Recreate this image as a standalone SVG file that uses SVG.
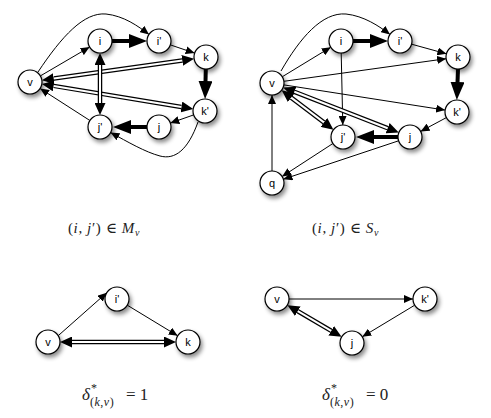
<svg xmlns="http://www.w3.org/2000/svg" width="491" height="418" viewBox="0 0 491 418">
<style>
.e{fill:none;stroke:#000;stroke-width:1}
.t{fill:none;stroke:#000;stroke-width:4}
.db{fill:none;stroke:#000;stroke-width:4.5}
.dw{fill:none;stroke:#fff;stroke-width:2}
.n circle{fill:#fff;stroke:#000;stroke-width:1.2}
.n text{font-family:"Liberation Sans",Arial,sans-serif;font-size:11px;text-anchor:middle;dominant-baseline:central;fill:#000}
.m{font-family:"Liberation Serif","DejaVu Serif",serif;font-size:15px;fill:#222}
.i{font-style:italic}
.s{font-size:10px}
.ss{font-size:12px}
.big{font-size:17px}
</style>
<defs>
<filter id="sh" x="-60%" y="-60%" width="220%" height="220%"><feDropShadow dx="2" dy="3" stdDeviation="2" flood-color="#000" flood-opacity="0.45"/></filter>
<marker id="a" markerUnits="userSpaceOnUse" viewBox="0 0 9 8" refX="9" refY="4" markerWidth="9" markerHeight="8" orient="auto"><path d="M0,0 L9,4 L0,8 z"/></marker>
<marker id="t" markerUnits="userSpaceOnUse" viewBox="0 0 18 14" refX="0.5" refY="7" markerWidth="18" markerHeight="14" orient="auto"><path d="M0,0 L18,7 L0,14 z"/></marker>
<marker id="d" markerUnits="userSpaceOnUse" viewBox="0 0 12 11" refX="0" refY="5.5" markerWidth="12" markerHeight="11" orient="auto-start-reverse"><path d="M0,0 L12,5.5 L0,11 z"/></marker>
</defs>
<g id="connectors">
<!-- left graph -->
<path class="e" marker-end="url(#a)" d="M40.4,75.9 L89.6,47.1"/>
<path class="e" marker-end="url(#a)" d="M38,72 C62,36 84,12 106,14 C124,16 138,26 149,34.5"/>
<path class="t" marker-end="url(#t)" d="M112,41 L129.5,41"/>
<path class="e" marker-end="url(#a)" d="M170.4,44.9 L194.6,53.1"/>
<path class="t" marker-end="url(#t)" d="M205.8,69 L205.5,81.5"/>
<path class="db" marker-start="url(#d)" marker-end="url(#d)" d="M53.8,78.6 L182.2,60.4"/>
<path class="dw" d="M53.8,78.6 L182.2,60.4"/>
<path class="db" marker-start="url(#d)" marker-end="url(#d)" d="M53.7,85.9 L181.4,107"/>
<path class="dw" d="M53.7,85.9 L181.4,107"/>
<path class="db" marker-start="url(#d)" marker-end="url(#d)" d="M100,65 L100,103"/>
<path class="dw" d="M100,65 L100,103"/>
<path class="t" marker-end="url(#t)" d="M147,127 L130.5,127"/>
<path class="e" marker-end="url(#a)" d="M193.7,114.9 L170.3,123.1"/>
<path class="e" marker-end="url(#a)" d="M89.9,120.5 L40.1,88.5"/>
<path class="e" marker-end="url(#a)" d="M198,122 C188,150 175,160 160,156 C145,152 128,142 110.5,132.5"/>
<!-- right graph -->
<path class="e" marker-end="url(#a)" d="M281,71 C300,38 322,12 346,14 C364,16 379,26 390,34.5"/>
<path class="e" marker-end="url(#a)" d="M282.2,76.8 L330.8,47.2"/>
<path class="t" marker-end="url(#t)" d="M353,41 L370.5,41"/>
<path class="e" marker-end="url(#a)" d="M411.6,44.2 L446.4,53.8"/>
<path class="e" marker-end="url(#a)" d="M283.9,81.3 L446.1,58.7"/>
<path class="t" marker-end="url(#t)" d="M458,69 L457.5,82.5"/>
<path class="e" marker-end="url(#a)" d="M283.9,84.9 L445.1,110.1"/>
<path class="e" marker-end="url(#a)" d="M341.2,53 L342.8,125"/>
<path class="db" marker-start="url(#d)" marker-end="url(#d)" d="M291.2,97.6 L323.9,122.4"/>
<path class="dw" d="M291.2,97.6 L323.9,122.4"/>
<path class="db" marker-start="url(#d)" marker-end="url(#d)" d="M294.4,91.8 L387.6,128.2"/>
<path class="dw" d="M294.4,91.8 L387.6,128.2"/>
<path class="e" marker-end="url(#a)" d="M446.4,117.6 L420.6,131.4"/>
<path class="t" marker-end="url(#t)" d="M398,137 L373.5,137"/>
<path class="e" marker-end="url(#a)" d="M332.9,143.5 L282.1,176.5"/>
<path class="e" marker-end="url(#a)" d="M398.6,140.8 L283.4,179.2"/>
<path class="e" marker-end="url(#a)" d="M272,171 L272,95"/>
<!-- bottom left -->
<path class="e" marker-end="url(#a)" d="M58.2,335.7 L106.8,292.7"/>
<path class="e" marker-end="url(#a)" d="M127.3,305.2 L177.7,335.8"/>
<path class="db" marker-start="url(#d)" marker-end="url(#d)" d="M72,342 L164,342"/>
<path class="dw" d="M72,342 L164,342"/>
<!-- bottom right -->
<path class="e" marker-end="url(#a)" d="M289,299 L413,299"/>
<path class="e" marker-end="url(#a)" d="M414.7,305.2 L362.3,336.8"/>
<path class="db" marker-start="url(#d)" marker-end="url(#d)" d="M297.8,311.2 L331.2,330.8"/>
<path class="dw" d="M297.8,311.2 L331.2,330.8"/>
</g>
<g id="L-v" class="n"><circle cx="30" cy="82" r="12" filter="url(#sh)"/><text x="30" y="82">v</text></g>
<g id="L-i" class="n"><circle cx="100" cy="41" r="12" filter="url(#sh)"/><text x="100" y="41">i</text></g>
<g id="L-i2" class="n"><circle cx="159" cy="41" r="12" filter="url(#sh)"/><text x="159" y="41">i'</text></g>
<g id="L-k" class="n"><circle cx="206" cy="57" r="12" filter="url(#sh)"/><text x="206" y="57">k</text></g>
<g id="L-k2" class="n"><circle cx="205" cy="111" r="12" filter="url(#sh)"/><text x="205" y="111">k'</text></g>
<g id="L-j" class="n"><circle cx="159" cy="127" r="12" filter="url(#sh)"/><text x="159" y="127">j</text></g>
<g id="L-j2" class="n"><circle cx="100" cy="127" r="12" filter="url(#sh)"/><text x="100" y="127">j'</text></g>
<g id="R-v" class="n"><circle cx="272" cy="83" r="12" filter="url(#sh)"/><text x="272" y="83">v</text></g>
<g id="R-i" class="n"><circle cx="341" cy="41" r="12" filter="url(#sh)"/><text x="341" y="41">i</text></g>
<g id="R-i2" class="n"><circle cx="400" cy="41" r="12" filter="url(#sh)"/><text x="400" y="41">i'</text></g>
<g id="R-k" class="n"><circle cx="458" cy="57" r="12" filter="url(#sh)"/><text x="458" y="57">k</text></g>
<g id="R-k2" class="n"><circle cx="457" cy="112" r="12" filter="url(#sh)"/><text x="457" y="112">k'</text></g>
<g id="R-j" class="n"><circle cx="410" cy="137" r="12" filter="url(#sh)"/><text x="410" y="137">j</text></g>
<g id="R-j2" class="n"><circle cx="343" cy="137" r="12" filter="url(#sh)"/><text x="343" y="137">j'</text></g>
<g id="R-q" class="n"><circle cx="272" cy="183" r="12" filter="url(#sh)"/><text x="272" y="183">q</text></g>
<g id="BL-v" class="n"><circle cx="48" cy="342" r="12" filter="url(#sh)"/><text x="48" y="342">v</text></g>
<g id="BL-i2" class="n"><circle cx="117" cy="299" r="12" filter="url(#sh)"/><text x="117" y="299">i'</text></g>
<g id="BL-k" class="n"><circle cx="188" cy="342" r="12" filter="url(#sh)"/><text x="188" y="342">k</text></g>
<g id="BR-v" class="n"><circle cx="277" cy="299" r="12" filter="url(#sh)"/><text x="277" y="299">v</text></g>
<g id="BR-k2" class="n"><circle cx="425" cy="299" r="12" filter="url(#sh)"/><text x="425" y="299">k'</text></g>
<g id="BR-j" class="n"><circle cx="352" cy="343" r="12" filter="url(#sh)"/><text x="352" y="343">j</text></g>
<g id="labels">
<text class="m" x="68" y="233" letter-spacing="0.6">(<tspan class="i">i</tspan>, <tspan class="i">j</tspan>′) ∈ <tspan class="i">M</tspan><tspan class="i s" dy="3">v</tspan></text>
<text class="m" x="312" y="233" letter-spacing="0.6">(<tspan class="i">i</tspan>, <tspan class="i">j</tspan>′) ∈ <tspan class="i">S</tspan><tspan class="i s" dy="3">v</tspan></text>
<text class="m big" x="82" y="400"><tspan class="i">δ</tspan><tspan class="ss" x="91" y="392">*</tspan><tspan class="ss" x="90" y="406" letter-spacing="0.5">(<tspan class="i">k</tspan>,<tspan class="i">v</tspan>)</tspan><tspan x="126" y="400">= 1</tspan></text>
<text class="m big" x="322" y="400"><tspan class="i">δ</tspan><tspan class="ss" x="331" y="392">*</tspan><tspan class="ss" x="330" y="406" letter-spacing="0.5">(<tspan class="i">k</tspan>,<tspan class="i">v</tspan>)</tspan><tspan x="366" y="400">= 0</tspan></text>
</g>
</svg>
